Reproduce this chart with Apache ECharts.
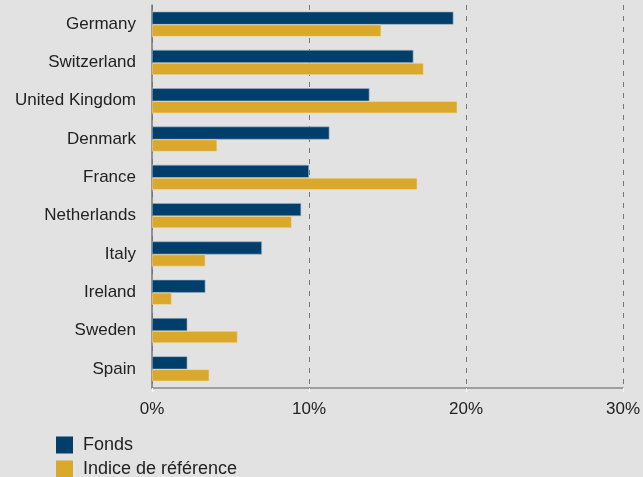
<!DOCTYPE html>
<html>
<head>
<meta charset="utf-8">
<script src="https://cdn.jsdelivr.net/npm/echarts@6/dist/echarts.min.js"></script>
<style>
  html, body { margin: 0; padding: 0; background: #e2e2e2; }
  #chart { width: 643px; height: 477px; }
</style>
</head>
<body>
<div id="chart"></div>
<script>
const countries = ["Germany", "Switzerland", "United Kingdom", "Denmark", "France",
  "Netherlands", "Italy", "Ireland", "Sweden", "Spain"];
const fonds = [19.2, 16.65, 13.85, 11.3, 10.0, 9.5, 7.0, 3.4, 2.25, 2.25];
const indice = [14.6, 17.3, 19.45, 4.15, 16.9, 8.9, 3.4, 1.25, 5.45, 3.65];
const xTicks = [0, 10, 20, 30];

const font = "'Liberation Sans', Arial, sans-serif";
const legendText = { color: "#222", fontSize: 18, fontFamily: font, padding: [0, 0, 0, 5] };

var myChart = echarts.init(document.getElementById("chart"));
var option = {
  backgroundColor: "#e2e2e2",
  animation: false,
  grid: {
    left: 152,
    right: 20,
    top: 5,
    bottom: 89
  },
  // two legends so the items stack one under the other
  legend: [
    {
      data: ["Fonds"],
      left: 56,
      top: 436,
      padding: 0,
      itemWidth: 17,
      itemHeight: 17,
      itemGap: 0,
      icon: "rect",
      itemStyle: { borderWidth: 0 },
      textStyle: legendText
    },
    {
      data: ["Indice de référence"],
      left: 56,
      top: 460,
      padding: 0,
      itemWidth: 17,
      itemHeight: 17,
      itemGap: 0,
      icon: "rect",
      itemStyle: { borderWidth: 0 },
      textStyle: legendText
    }
  ],
  xAxis: {
    type: "value",
    min: xTicks[0],
    max: xTicks[xTicks.length - 1],
    interval: 10,
    axisLine: { show: true, lineStyle: { color: "#888", width: 1.5 } },
    axisTick: { show: true, length: 4, lineStyle: { color: "#fff" } },
    axisLabel: {
      color: "#222",
      fontSize: 17,
      fontFamily: font,
      margin: 13,
      formatter: "{value}%"
    },
    splitLine: {
      show: true,
      lineStyle: { color: "#777", type: [5, 6], width: 1 }
    }
  },
  yAxis: {
    type: "category",
    data: countries,
    inverse: true,
    axisLine: { show: true, lineStyle: { color: "#777", width: 1.5 } },
    axisTick: { show: false },
    axisLabel: {
      color: "#222",
      fontSize: 17,
      fontFamily: font,
      margin: 16
    }
  },
  series: [
    {
      name: "Fonds",
      type: "bar",
      data: fonds,
      barWidth: 13,
      barGap: "0%",
      itemStyle: { color: "#003f6b", borderColor: "#9fb3c6", borderWidth: 0.6 }
    },
    {
      name: "Indice de référence",
      type: "bar",
      data: indice,
      barWidth: 12,
      barGap: "0%",
      itemStyle: { color: "#dba82e", borderColor: "#f2dc9c", borderWidth: 0.6 }
    }
  ]
};
myChart.setOption(option);
</script>
</body>
</html>
